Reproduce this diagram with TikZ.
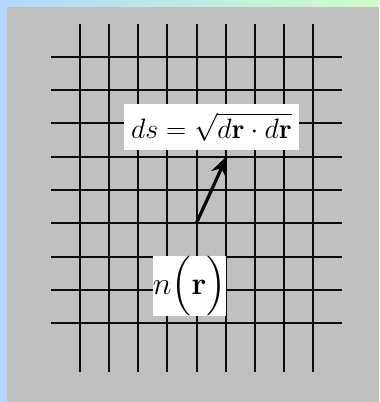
\RequirePackage{fix-cm}
\documentclass[tikz,border=0pt]{standalone}
\usepackage{amsmath}
\usepackage{tikz}
\usetikzlibrary{arrows.meta}
\definecolor{panelgray}{RGB}{191,192,191}
\definecolor{skyblue}{RGB}{178,214,255}
\definecolor{skycyan}{RGB}{178,240,250}
\definecolor{skygreen}{RGB}{205,255,200}
\definecolor{griddark}{RGB}{10,10,10}
\tikzset{
  gridline/.style={line width=1.5pt, color=griddark},
  labelbox/.style={rectangle, fill=white, inner sep=0pt, align=center},
  vecarrow/.style={-{Stealth[length=15pt,width=12pt]}, line width=2.4pt, color=black}
}
\begin{document}
\begin{tikzpicture}[x=0.75pt, y=-0.75pt]
  \useasboundingbox (0,0) rectangle (379,402);
  \shade[left color=skyblue, middle color=skycyan, right color=skygreen] (0,0) rectangle (379,402);
  \fill[panelgray] (7,7) rectangle (379,402);
  \foreach \i in {0,...,8}
    \draw[gridline] ({80+29.15*\i},24) -- ({80+29.15*\i},372);
  \foreach \j in {0,...,8}
    \draw[gridline] (51,{57+33.25*\j}) -- (342,{57+33.25*\j});
  \node[labelbox, minimum width=131pt, minimum height=34.5pt] (dsform) at (211.5,127)
    {\fontsize{21}{24}\selectfont $ds=\sqrt{d\mathbf{r}\cdot d\mathbf{r}}$};
  \node[labelbox, minimum width=55pt, minimum height=43.5pt] (nfun) at (189.5,286)
    {\fontsize{24}{28}\selectfont $n\Bigl(\mathbf{r}\Bigr)$};
  \coordinate (tail) at (196.5,223);
  \coordinate (tip) at (227,156);
  \draw[vecarrow] (tail) -- (tip);
\end{tikzpicture}
\end{document}
